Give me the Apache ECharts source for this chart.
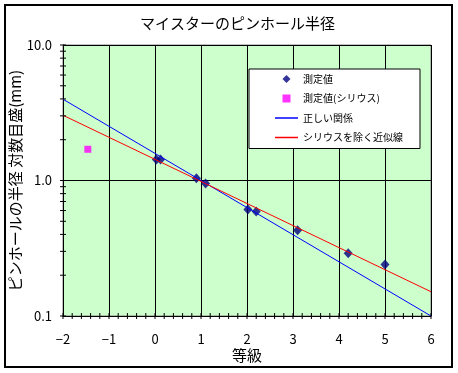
<!DOCTYPE html>
<html>
<head>
<meta charset="utf-8">
<script src="https://cdn.jsdelivr.net/npm/echarts@6/dist/echarts.min.js"></script>
<style>
html,body{margin:0;padding:0;background:#fff;}
#chart{width:458px;height:373px;}
</style>
</head>
<body>
<div id="chart"></div>
<script>
// ---- data ----
const titleText = 'マイスターのピンホール半径';
const xAxisName = '等級';
const yAxisName = 'ピンホールの半径 対数目盛(mm)';
const seriesNames = ['測定値', '測定値(シリウス)', '正しい関係', 'シリウスを除く近似線'];

const magnitudes = [0.03, 0.12, 0.9, 1.1, 2.02, 2.2, 3.1, 4.2, 5.0];
const radii      = [1.43, 1.43, 1.04, 0.95, 0.61, 0.59, 0.43, 0.29, 0.24];

const siriusMag = [-1.46];
const siriusRadius = [1.70];

const correctLineX = [-2, 6];
const correctLineY = [3.98, 0.10];

const fitLineX = [-2, 6];
const fitLineY = [3.03, 0.151];

const yTickValues = [0.1, 0.2, 0.3, 0.4, 0.5, 0.6, 0.7, 0.8, 0.9, 1, 2, 3, 4, 5, 6, 7, 8, 9, 10];
const xMin = -2, xMax = 6, xMinorStep = 0.2;

// ---- build ----
const zip = (a, b) => a.map((v, i) => [v, b[i]]);
const xTickValues = [];
for (let i = 0; i <= Math.round((xMax - xMin) / xMinorStep); i++) {
  xTickValues.push(+(xMin + i * xMinorStep).toFixed(2));
}

const FONT = 'Noto Sans CJK JP';
const ICON_DIAMOND = 'path://M5,0L10,5L5,10L0,5Z';
const ICON_SQUARE = 'path://M0,0L10,0L10,10L0,10Z';
const ICON_LINE = 'path://M0,0L23,0L23,1.5L0,1.5Z';

const chart = echarts.init(document.getElementById('chart'), null, {renderer: 'canvas'});

const option = {
  animation: false,
  backgroundColor: '#ffffff',
  textStyle: {fontFamily: FONT, color: '#000'},
  title: {
    text: titleText,
    left: 135,
    top: 11,
    textStyle: {fontFamily: FONT, fontSize: 15, fontWeight: 'normal', color: '#000'}
  },
  graphic: [{
    type: 'rect',
    shape: {x: 5, y: 5, width: 447, height: 362},
    style: {fill: 'none', stroke: '#000', lineWidth: 2},
    silent: true,
    z: 100
  }],
  legend: {
    orient: 'vertical',
    left: 249,
    top: 69,
    padding: [4, 17, 5, 26],
    itemWidth: 23,
    itemHeight: 8,
    itemGap: 7.5,
    symbolKeepAspect: true,
    backgroundColor: '#ffffff',
    borderColor: '#000',
    borderWidth: 1,
    selectedMode: false,
    textStyle: {fontFamily: FONT, fontSize: 10, lineHeight: 12, color: '#000'},
    data: [
      {name: seriesNames[0], icon: ICON_DIAMOND, itemStyle: {color: '#000080', borderWidth: 0}},
      {name: seriesNames[1], icon: ICON_SQUARE, itemStyle: {color: '#FF00FF', borderWidth: 0}},
      {name: seriesNames[2], icon: ICON_LINE, itemStyle: {color: '#0000FF', borderColor: '#0000FF', borderWidth: 0}},
      {name: seriesNames[3], icon: ICON_LINE, itemStyle: {color: '#FF0000', borderColor: '#FF0000', borderWidth: 0}}
    ]
  },
  grid: {
    left: 63, top: 45, width: 368, height: 271,
    outerBoundsMode: 'none',
    containLabel: false,
    show: true,
    backgroundColor: '#CCFFCC',
    borderColor: '#808080',
    borderWidth: 1
  },
  xAxis: {
    type: 'value',
    min: xMin, max: xMax, interval: 1,
    name: xAxisName,
    nameLocation: 'middle',
    nameGap: 32,
    nameMoveOverlap: false,
    nameTextStyle: {fontFamily: FONT, fontSize: 15, color: '#000'},
    axisLine: {show: true, onZero: false, lineStyle: {color: '#000', width: 1}},
    axisTick: {show: false},
    axisLabel: {
      margin: 17,
      fontFamily: FONT, fontSize: 13, color: '#000',
      formatter: v => v < 0 ? '\u2212' + Math.abs(v) : String(v)
    },
    splitLine: {show: true, lineStyle: {color: '#000', width: 1}}
  },
  yAxis: {
    type: 'log',
    logBase: 10,
    min: 0.1, max: 10,
    name: yAxisName,
    nameLocation: 'middle',
    nameGap: 40,
    nameRotate: 90,
    nameMoveOverlap: false,
    nameTextStyle: {fontFamily: FONT, fontSize: 15, color: '#000'},
    axisLine: {show: true, onZero: false, lineStyle: {color: '#000', width: 1}},
    axisTick: {show: false},
    axisLabel: {
      margin: 11,
      fontFamily: FONT, fontSize: 13, color: '#000',
      formatter: v => Number(v).toFixed(1)
    },
    splitLine: {show: true, lineStyle: {color: '#000', width: 1}}
  },
  series: [
    {
      name: seriesNames[0],
      type: 'scatter',
      symbol: 'diamond',
      symbolSize: [9, 10],
      itemStyle: {color: '#000080'},
      data: zip(magnitudes, radii),
      z: 3
    },
    {
      name: seriesNames[1],
      type: 'scatter',
      symbol: 'rect',
      symbolSize: 7,
      itemStyle: {color: '#FF00FF'},
      data: zip(siriusMag, siriusRadius),
      z: 3
    },
    {
      name: seriesNames[2],
      type: 'line',
      symbol: 'none',
      lineStyle: {color: '#0000FF', width: 1},
      itemStyle: {color: '#0000FF'},
      data: zip(correctLineX, correctLineY),
      z: 4
    },
    {
      name: seriesNames[3],
      type: 'line',
      symbol: 'none',
      lineStyle: {color: '#FF0000', width: 1},
      itemStyle: {color: '#FF0000'},
      data: zip(fitLineX, fitLineY),
      z: 4
    },
    {
      type: 'custom',
      silent: true,
      clip: false,
      data: yTickValues.map(v => [xMin, v]),
      renderItem: (params, api) => {
        const p = api.coord([api.value(0), api.value(1)]);
        return {type: 'line', shape: {x1: p[0] - 3, y1: p[1], x2: p[0] + 3, y2: p[1]},
                style: {stroke: '#000', lineWidth: 1}};
      },
      z: 5
    },
    {
      type: 'custom',
      silent: true,
      clip: false,
      data: xTickValues.map(v => [v, 0.1]),
      renderItem: (params, api) => {
        const p = api.coord([api.value(0), api.value(1)]);
        return {type: 'line', shape: {x1: p[0], y1: p[1] - 3, x2: p[0], y2: p[1] + 3},
                style: {stroke: '#000', lineWidth: 1}};
      },
      z: 5
    }
  ]
};
chart.setOption(option);
</script>
</body>
</html>
